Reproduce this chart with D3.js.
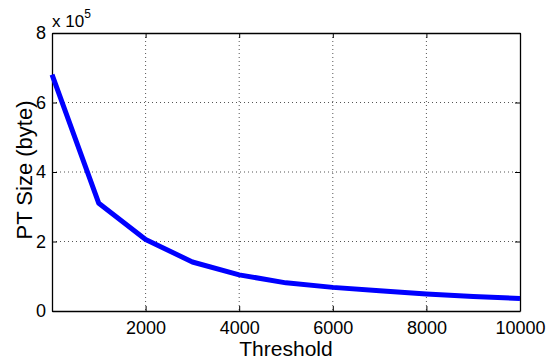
<!DOCTYPE html>
<html>
<head>
<meta charset="utf-8">
<script src="https://cdn.jsdelivr.net/npm/d3@7"></script>
<style>
  body { margin: 0; background: #fff; }
  svg text { font-family: "Liberation Sans", Arial, sans-serif; fill: #000; }
</style>
</head>
<body>
<svg id="chart" width="550" height="361"></svg>
<script>
// thresholds and PT size (in units of 1e5 bytes)
const thresholds = [1, 1000, 2000, 3000, 4000, 5000, 6000, 7000, 8000, 9000, 10000];
const ptSize = [6.8, 3.1, 2.06, 1.41, 1.04, 0.81, 0.68, 0.58, 0.49, 0.415, 0.36];
const xTicks = [2000, 4000, 6000, 8000, 10000];
const yTicks = [0, 2, 4, 6, 8];

const margin = { top: 33, right: 30, bottom: 50, left: 52 };
const width = 550, height = 361;
const w = width - margin.left - margin.right;
const h = height - margin.top - margin.bottom;

const svg = d3.select('#chart');
const g = svg.append('g').attr('transform', `translate(${margin.left},${margin.top})`);

const x = d3.scaleLinear().domain([0, 10000]).range([0, w]);
const y = d3.scaleLinear().domain([0, 8]).range([h, 0]);

// dotted grid
g.selectAll('.vgrid').data(xTicks.filter(d => d < 10000)).enter()
  .append('line')
  .attr('x1', d => x(d)).attr('x2', d => x(d))
  .attr('y1', 0).attr('y2', h)
  .attr('stroke', '#555').attr('stroke-width', 1)
  .attr('stroke-dasharray', '1,3');
g.selectAll('.hgrid').data(yTicks.filter(d => d > 0 && d < 8)).enter()
  .append('line')
  .attr('x1', 0).attr('x2', w)
  .attr('y1', d => y(d)).attr('y2', d => y(d))
  .attr('stroke', '#555').attr('stroke-width', 1)
  .attr('stroke-dasharray', '1,3');

// axes with inward ticks
const fmt = d3.format('d');
const xAxis = g.append('g').attr('transform', `translate(0,${h})`)
  .call(d3.axisBottom(x).tickValues(xTicks).tickFormat(fmt).tickSizeInner(-5).tickSizeOuter(0).tickPadding(10));
const yAxis = g.append('g')
  .call(d3.axisLeft(y).tickValues(yTicks).tickFormat(fmt).tickSizeInner(-5).tickSizeOuter(0).tickPadding(6));
g.append('g')
  .call(d3.axisTop(x).tickValues(xTicks).tickSizeInner(-5).tickSizeOuter(0).tickFormat(''));
g.append('g').attr('transform', `translate(${w},0)`)
  .call(d3.axisRight(y).tickValues(yTicks).tickSizeInner(-5).tickSizeOuter(0).tickFormat(''));

svg.selectAll('.domain').attr('stroke', '#000').attr('stroke-width', 1.3);
svg.selectAll('.tick line').attr('stroke', '#000');
xAxis.selectAll('text').style('font-size', '18px').attr('dy', '0.71em');
yAxis.selectAll('text').style('font-size', '18px');

// data line
const line = d3.line().x((d, i) => x(thresholds[i])).y(d => y(d));
g.append('path')
  .datum(ptSize)
  .attr('fill', 'none')
  .attr('stroke', '#0000ff')
  .attr('stroke-width', 5)
  .attr('stroke-linejoin', 'round')
  .attr('d', line);

// exponent label
const ex = svg.append('text').attr('x', margin.left).attr('y', 27).style('font-size', '17px');
ex.append('tspan').text('x 10');
ex.append('tspan').attr('dy', -9).style('font-size', '12px').text('5');

// axis titles
svg.append('text')
  .attr('x', margin.left + w / 2).attr('y', 356)
  .attr('text-anchor', 'middle').style('font-size', '21px')
  .text('Threshold');
svg.append('text')
  .attr('transform', `translate(32,170) rotate(-90)`)
  .attr('text-anchor', 'middle').style('font-size', '22px')
  .text('PT Size (byte)');
</script>
</body>
</html>
